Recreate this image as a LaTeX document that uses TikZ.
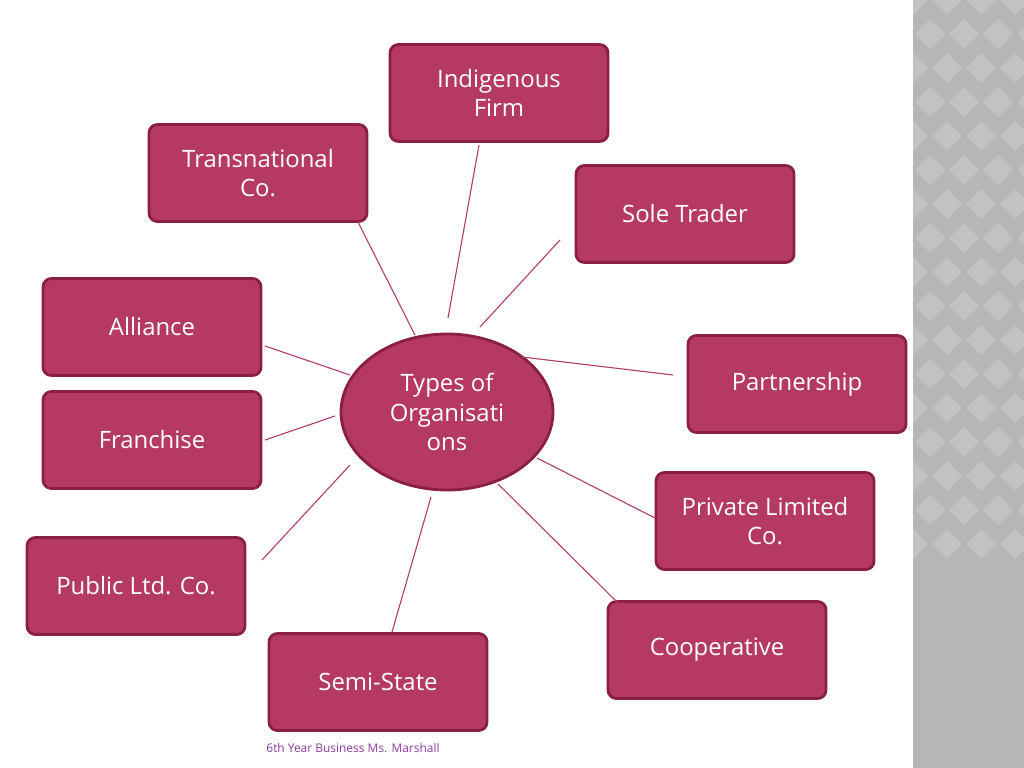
\documentclass[tikz,border=0pt]{standalone}
\usepackage{fontspec}
\setmainfont{Open Sans}
\usetikzlibrary{shapes.geometric}
\definecolor{boxfill}{HTML}{B43A64}
\definecolor{boxline}{HTML}{8A1E44}
\definecolor{linkcol}{HTML}{B0406A}
\definecolor{footcol}{HTML}{8E3A9E}
\definecolor{stripcol}{HTML}{B6B6B6}
\definecolor{diacol}{HTML}{C2C2C2}
\tikzset{
  orgbox/.style={draw=boxline, line width=2pt, fill=boxfill, rounded corners=6pt,
    minimum width=218*0.025cm, minimum height=97*0.025cm, text=white,
    align=center, font=\fontsize{17}{21}\selectfont},
  hub/.style={ellipse, draw=boxline, line width=2pt, fill=boxfill,
    minimum width=212*0.025cm, minimum height=156*0.025cm, text=white,
    align=center, font=\fontsize{17}{21}\selectfont, inner sep=0pt},
  link/.style={draw=linkcol, line width=0.8pt}
}
\begin{document}
\begin{tikzpicture}[x=0.025cm, y=-0.025cm]
    \useasboundingbox (0,0) rectangle (1024,768);
    % grey strip on the right
    \fill[stripcol] (913,0) rectangle (1024,768);
    \begin{scope}
        \clip (913,0) rectangle (1024,768);
        \foreach \r in {0,...,16} {
            \foreach \c in {0,...,3} {
                \pgfmathsetmacro{\cx}{913+\c*34+mod(\r,2)*17}
                \pgfmathsetmacro{\cy}{\r*34}
                \fill[diacol] (\cx,\cy-15) -- (\cx+15,\cy) -- (\cx,\cy+15) -- (\cx-15,\cy) -- cycle;
            }
        }
    \end{scope}

    % central node
    \node[hub] (types) at (447,412) {Types of\\Organisati\\ons};

    % surrounding boxes
    \node[orgbox] (indig)   at (499,93)  {Indigenous\\Firm};
    \node[orgbox] (trans)   at (258,173) {Transnational\\Co.};
    \node[orgbox] (sole)    at (685,214) {Sole Trader};
    \node[orgbox] (alli)    at (152,327) {Alliance};
    \node[orgbox] (partner) at (797,384) {Partnership};
    \node[orgbox] (fran)    at (152,440) {Franchise};
    \node[orgbox] (priv)    at (765,521) {Private Limited\\Co.};
    \node[orgbox] (publ)    at (136,586) {Public Ltd. Co.};
    \node[orgbox] (coop)    at (717,650) {Cooperative};
    \node[orgbox] (semi)    at (378,682) {Semi-State};

    % connector ends
    \coordinate (indigA) at (479,145); \coordinate (indigB) at (448,318);
    \coordinate (transA) at (358,222); \coordinate (transB) at (415,335);
    \coordinate (soleA) at (560,240);  \coordinate (soleB) at (480,327);
    \coordinate (alliA) at (265,346);  \coordinate (alliB) at (350,375);
    \coordinate (partnerA) at (673,375); \coordinate (partnerB) at (522,357);
    \coordinate (franA) at (265,440);  \coordinate (franB) at (335,416);
    \coordinate (privA) at (655,518);  \coordinate (privB) at (537,458);
    \coordinate (publA) at (262,560);  \coordinate (publB) at (350,465);
    \coordinate (coopA) at (618,603);  \coordinate (coopB) at (498,484);
    \coordinate (semiA) at (392,632);  \coordinate (semiB) at (431,497);
    \foreach \n in {indig,trans,sole,alli,partner,fran,priv,publ,coop,semi}
        \draw[link] (\n A) -- (\n B);

    % footer
    \node[text=footcol, font=\fontsize{8.5}{10}\selectfont] (foot) at (353,748)
        {6th Year Business Ms. Marshall};
\end{tikzpicture}
\end{document}
